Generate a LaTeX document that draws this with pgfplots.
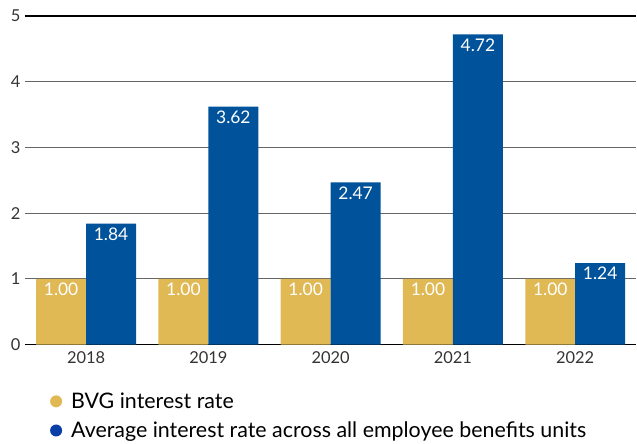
\documentclass[border=0pt]{standalone}
\usepackage{pgfplots}
\pgfplotsset{compat=1.18}
\usepackage{fontspec}
\setmainfont{Lato}
\definecolor{gold}{HTML}{E0B955}
\definecolor{navy}{HTML}{00529B}
\definecolor{legblue}{HTML}{0A3FA8}
\definecolor{tick}{HTML}{333333}
\begin{document}
\begin{tikzpicture}
\begin{axis}[
  scale only axis,
  width=612bp, height=329bp,
  xmin=-0.5, xmax=4.5,
  ymin=0, ymax=5,
  ytick={0,1,2,3,4,5},
  xtick={0,1,2,3,4},
  xticklabels={2018,2019,2020,2021,2022},
  major tick length=0pt,
  axis line style={draw=none},
  ymajorgrids,
  grid style={color=black!60, line width=1pt},
  extra y ticks={0,5},
  extra y tick labels={},
  extra y tick style={grid style={black, line width=1.3pt}},
  ticklabel style={font=\fontsize{16.5}{19}\selectfont, text=tick},
  /pgf/number format/assume math mode=true,
  yticklabel style={xshift=-1bp},
  xticklabel style={yshift=-3bp},
  bar width=50bp,
  legend style={at={(0,0)}, anchor=north west, xshift=22bp, yshift=-44bp, draw=none, fill=none,
    font=\fontsize{21.5}{24}\selectfont, row sep=8bp, cells={anchor=west}},
  legend cell align=left,
]
\addplot[ybar, fill=gold, draw=none, bar shift=-25bp, forget plot,
  nodes near coords,
  nodes near coords style={anchor=north, xshift=-25bp, text=white, font=\fontsize{17.5}{20}\selectfont, inner sep=4bp,
    /pgf/number format/.cd, fixed, fixed zerofill, precision=2, assume math mode=true}]
  coordinates {(0,1.00) (1,1.00) (2,1.00) (3,1.00) (4,1.00)};
\addplot[ybar, fill=navy, draw=none, bar shift=25bp, forget plot,
  nodes near coords,
  nodes near coords style={anchor=north, xshift=25bp, text=white, font=\fontsize{17.5}{20}\selectfont, inner sep=4bp,
    /pgf/number format/.cd, fixed, fixed zerofill, precision=2, assume math mode=true}]
  coordinates {(0,1.84) (1,3.62) (2,2.47) (3,4.72) (4,1.24)};
\addlegendimage{draw=none, legend image code/.code={\path[draw=none, fill=none] (0,-6bp) rectangle (19bp,6bp); \fill[gold, draw=none] (6bp,0cm) circle (6bp);}}
\addlegendentry{BVG interest rate}
\addlegendimage{draw=none, legend image code/.code={\path[draw=none, fill=none] (0,-6bp) rectangle (19bp,6bp); \fill[legblue, draw=none] (6bp,0cm) circle (6bp);}}
\addlegendentry{Average interest rate across all employee benefits units}
\end{axis}
\useasboundingbox (-25bp,-98bp) rectangle (612bp,345bp);
\end{tikzpicture}
\end{document}
